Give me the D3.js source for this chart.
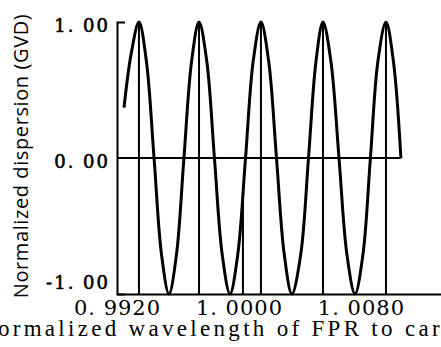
<!DOCTYPE html>
<html>
<head>
<meta charset="utf-8">
<script src="https://cdn.jsdelivr.net/npm/d3@7"></script>
<style>
  body { margin: 0; background: #fff; }
  svg { display: block; }
</style>
</head>
<body>
<svg width="441" height="347"></svg>
<script>
// normalized wavelength (x) and normalized GVD (y)
var wavelength = [0.99246, 0.99292, 0.99344, 0.99393, 0.99443, 0.99492, 0.99541,
  0.99590, 0.99639, 0.99689, 0.99738, 0.99789, 0.99839, 0.99890, 0.99941,
  0.99992, 1.00043, 1.00093, 1.00144, 1.00195, 1.00246, 1.00297, 1.00347,
  1.00405, 1.00456, 1.00505, 1.00551, 1.00603, 1.00656, 1.00708, 1.00761,
  1.00813, 1.00862, 1.00911, 1.00964, 1.01013, 1.01062];
var gvd = [0.37, 0.76, 1.00, 0.71, 0.00, -0.71, -1.00,
  -0.71, 0.00, 0.71, 1.00, 0.71, 0.00, -0.71, -1.00,
  -0.71, 0.00, 0.71, 1.00, 0.71, 0.00, -0.71, -1.00,
  -0.71, 0.00, 0.71, 1.00, 0.71, 0.00, -0.71, -1.00,
  -0.71, 0.00, 0.71, 1.00, 0.71, 0.00];

// vertical marker lines (wavelength, top value)
var markerX = [0.99344, 0.99738, 1.00026, 1.00144, 1.00551, 1.00964];
var markerTop = [1, 1, -0.25, 1, 1, 1];

var xTicks = [0.9920, 1.0000, 1.0080];
var yTicks = [-1, 0, 1];

var svg = d3.select("svg");

// set the ranges
var x = d3.scaleLinear().domain([0.9920, 1.01325]).range([117, 441]),
    y = d3.scaleLinear().domain([-1, 1]).range([294, 22]);

var data = wavelength.map(function(w, i) { return {w: w, v: gvd[i]}; });

//zero line
svg.append("line")
  .attr("x1", x(0.9920)).attr("x2", x(wavelength[wavelength.length - 1]))
  .attr("y1", y(0)).attr("y2", y(0))
  .attr("stroke", "#000").attr("stroke-width", 2);

//marker lines
svg.selectAll(".marker")
  .data(markerX)
  .enter().append("line")
  .attr("class", "marker")
  .attr("x1", function(d) { return x(d); })
  .attr("x2", function(d) { return x(d); })
  .attr("y1", function(d, i) { return y(markerTop[i]); })
  .attr("y2", y(-1))
  .attr("stroke", "#000").attr("stroke-width", 2);

//the curve
var line = d3.line()
  .x(function(d) { return x(d.w); })
  .y(function(d) { return y(d.v); })
  .curve(d3.curveCatmullRom);

svg.append("path")
  .datum(data)
  .attr("d", line)
  .attr("fill", "none")
  .attr("stroke", "#000")
  .attr("stroke-width", 3)
  .attr("stroke-linejoin", "round");

//Add the X axis
var xAxis = svg.append("g")
  .attr("transform", "translate(0," + y(-1) + ")")
  .call(d3.axisBottom(x).tickValues(xTicks).tickSize(0).tickSizeOuter(0)
    .tickFormat(function(d) { return d3.format(".4f")(d).replace(".", ". "); }));
xAxis.selectAll("text")
  .attr("y", 21).attr("dy", 0)
  .style("font-family", "DejaVu Serif")
  .style("font-size", "21px")
  .style("letter-spacing", "1px")
  .attr("fill", "#000");

//Add the Y axis
var yAxis = svg.append("g")
  .attr("transform", "translate(" + x(0.9920) + ",0)")
  .call(d3.axisLeft(y).tickValues(yTicks).tickSize(0).tickSizeOuter(-8).tickPadding(7)
    .tickFormat(function(d) { return d3.format(".2f")(d).replace(".", ". ").replace("−", "-"); }));
yAxis.selectAll("text")
  .attr("dy", function(d) { return d < 0 ? "-0.3em" : "0.55em"; })
  .style("font-family", "DejaVu Serif")
  .style("font-size", "18px")
  .style("letter-spacing", "2px")
  .attr("fill", "#000")
  .attr("stroke", "#000")
  .attr("stroke-width", 0.6);

svg.selectAll(".domain").attr("stroke", "#000").attr("stroke-width", 2);

//axis titles
svg.append("text")
  .attr("transform", "translate(28,156) rotate(-90)")
  .attr("text-anchor", "middle")
  .style("font-family", "Open Sans")
  .style("font-size", "20px")
  .style("letter-spacing", "0.6px")
  .text("Normalized dispersion (GVD)");

svg.append("text")
  .attr("x", -22).attr("y", 336)
  .style("font-family", "Liberation Serif")
  .style("font-size", "23px")
  .style("letter-spacing", "3.3px")
  .text("Normalized wavelength of FPR to carrier");
</script>
</body>
</html>
